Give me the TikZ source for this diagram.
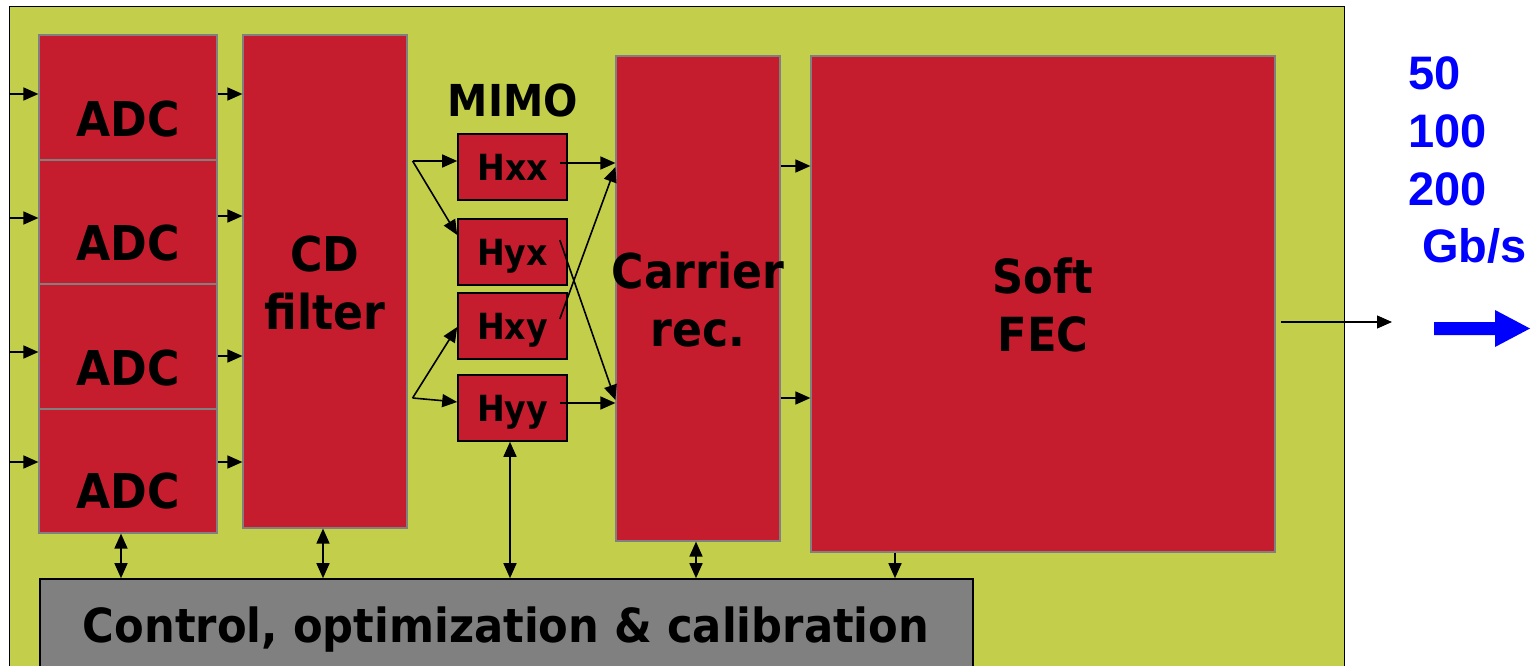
\documentclass[tikz,border=0pt]{standalone}
\usepackage{fontspec}
\setmainfont{DejaVu Sans}[FakeStretch=0.92]
\newfontfamily\arialfont{Liberation Sans}
\usetikzlibrary{arrows.meta,calc}
\definecolor{olivebg}{RGB}{195,207,74}
\definecolor{blockred}{RGB}{197,28,46}
\definecolor{ctrlgray}{RGB}{128,128,128}
\definecolor{rateblue}{RGB}{0,0,255}
\begin{document}
\begin{tikzpicture}[x=1pt,y=-1pt,
  blk/.style={draw=ctrlgray, line width=1.2pt, fill=blockred, inner sep=0pt},
  hbox/.style={draw=black, line width=1.6pt, fill=blockred, inner sep=0pt, minimum width=109pt, minimum height=66pt},
  lbl/.style={inner sep=0pt, anchor=base, font=\bfseries\fontsize{48}{58}\selectfont},
  hlbl/.style={inner sep=0pt, anchor=base, font=\bfseries\fontsize{36}{40}\selectfont},
  rate/.style={inner sep=0pt, anchor=base west, text=rateblue, font=\arialfont\bfseries\fontsize{47}{57}\selectfont},
  arr/.style={line width=1.6pt, -{Triangle[length=15pt,width=13pt]}},
  darr/.style={line width=1.6pt, {Triangle[length=15pt,width=13pt]}-{Triangle[length=15pt,width=13pt]}},
]
\useasboundingbox[fill=white] (0,0) rectangle (1532,666);
\clip (0,0) rectangle (1532,666);

% board
\node[draw=black, line width=1.4pt, fill=olivebg, inner sep=0pt, minimum width=1335pt, minimum height=700pt, anchor=north west] (board) at (9,6) {};

% blocks
\node[blk, minimum width=178pt, minimum height=125pt] (adc1) at (128,97.5) {};
\node[blk, minimum width=178pt, minimum height=124pt] (adc2) at (128,222) {};
\node[blk, minimum width=178pt, minimum height=125pt] (adc3) at (128,346.5) {};
\node[blk, minimum width=178pt, minimum height=124pt] (adc4) at (128,471) {};
\node[blk, minimum width=164pt, minimum height=493pt] (cd) at (325,281.5) {};
\node[hbox] (hxx) at (512.5,167) {};
\node[hbox] (hyx) at (512.5,252) {};
\node[hbox] (hxy) at (512.5,326) {};
\node[hbox] (hyy) at (512.5,408) {};
\node[blk, minimum width=164pt, minimum height=485pt] (car) at (698,298.5) {};
\node[blk, minimum width=464pt, minimum height=496pt] (fec) at (1043,304) {};
\node[draw=black, line width=1.6pt, fill=ctrlgray, inner sep=0pt, minimum width=933pt, minimum height=111pt] (ctrl) at (506.5,634.5) {};

% inputs
\coordinate (in1) at (9,94);
\coordinate (in2) at (9,218);
\coordinate (in3) at (9,352);
\coordinate (in4) at (9,462);
\draw[arr] (in1) -- (in1 -| adc1.west);
\draw[arr] (in2) -- (in2 -| adc2.west);
\draw[arr] (in3) -- (in3 -| adc3.west);
\draw[arr] (in4) -- (in4 -| adc4.west);

% ADC -> CD
\draw[arr] (adc1.east |- 0,94) -- (cd.west |- 0,94);
\draw[arr] (adc2.east |- 0,216) -- (cd.west |- 0,216);
\draw[arr] (adc3.east |- 0,356) -- (cd.west |- 0,356);
\draw[arr] (adc4.east |- 0,462) -- (cd.west |- 0,462);

% CD -> MIMO
\coordinate (fk1) at ($(cd.east |- 0,161)+(5,0)$);
\coordinate (fk2) at ($(cd.east |- 0,398)+(5,0)$);
\draw[arr] (fk1) -- (hxx.west |- 0,161);
\draw[arr] (fk1) -- (hyx.west |- 0,235);
\draw[arr] (fk2) -- (hxy.west |- 0,327);
\draw[arr] (fk2) -- (hyy.west |- 0,402);

% MIMO -> Carrier
\draw[arr] ($(hxx.east)+(-8,-4)$) -- (car.west |- 0,163);
\draw[arr] ($(hyy.east)+(-8,-5)$) -- (car.west |- 0,403);
\draw[arr] ($(hyx.east)+(-8,-12)$) -- (car.west |- 0,400);
\draw[arr] ($(hxy.east)+(-8,-7)$) -- (car.west |- 0,167);

% Carrier -> FEC
\draw[arr] (car.east |- 0,166) -- (fec.west |- 0,166);
\draw[arr] (car.east |- 0,398) -- (fec.west |- 0,398);

% FEC -> out
\coordinate (out) at (1392,322);
\draw[arr, line width=1.1pt] ($(fec.east)+(5,18)$) -- (out);

% control links
\draw[darr] (121,0 |- adc4.south) -- (121,0 |- ctrl.north);
\draw[darr] (323,0 |- cd.south) -- (323,0 |- ctrl.north);
\draw[darr] (510,0 |- hyy.south) -- (510,0 |- ctrl.north);
\draw[darr] (696,0 |- car.south) -- (696,0 |- ctrl.north);
\draw[arr] (895,0 |- fec.south) -- (895,0 |- ctrl.north);

% labels
\node[lbl] (tadc1) at (128,137) {ADC};
\node[lbl] (tadc2) at (128,260) {ADC};
\node[lbl] (tadc3) at (128,385) {ADC};
\node[lbl] (tadc4) at (128,508) {ADC};
\node[lbl] (tcd) at (325,271) {CD};
\node[lbl] (tfilter) at (325,329) {filter};
\node[lbl, font=\bfseries\fontsize{44}{50}\selectfont] (tmimo) at (513,117) {MIMO};
\node[hlbl] (thxx) at (512.5,180) {Hxx};
\node[hlbl] (thyx) at (512.5,265) {Hyx};
\node[hlbl] (thxy) at (512.5,339) {Hxy};
\node[hlbl] (thyy) at (512.5,421) {Hyy};
\node[lbl] (tcar) at (698,288) {Carrier};
\node[lbl] (trec) at (698,346) {rec.};
\node[lbl, font=\bfseries\fontsize{47}{57}\selectfont] (tsoft) at (1043,293) {Soft};
\node[lbl, font=\bfseries\fontsize{47}{57}\selectfont] (tfec) at (1043,351) {FEC};
\node[lbl, font=\bfseries\fontsize{47}{57}\selectfont] (tctrl) at (506,642) {Control, optimization \& calibration};

% rates
\node[rate] (r50) at (1408,90) {50};
\node[rate] (r100) at (1408,148) {100};
\node[rate] (r200) at (1408,205) {200};
\node[rate] (rgb) at (1422,262) {Gb/s};
\fill[rateblue] (1434,322) -- (1495,322) -- (1495,310) -- (1530,328.5) -- (1495,347) -- (1495,335) -- (1434,335) -- cycle;
\end{tikzpicture}
\end{document}
